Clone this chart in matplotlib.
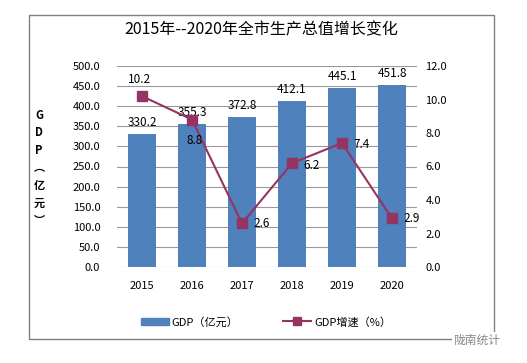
import matplotlib
matplotlib.use("Agg")
import matplotlib.pyplot as plt
from matplotlib.patches import Rectangle
from matplotlib.lines import Line2D
import numpy as np

plt.rcParams['font.family'] = ['Noto Sans CJK SC', 'DejaVu Sans']

years = ["2015", "2016", "2017", "2018", "2019", "2020"]
gdp = [330.2, 355.3, 372.8, 412.1, 445.1, 451.8]
growth = [10.2, 8.8, 2.6, 6.2, 7.4, 2.9]
title = "2015年--2020年全市生产总值增长变化"
bar_label = "GDP（亿元）"
line_label = "GDP增速（%）"

W, H = 527, 363
fig = plt.figure(figsize=(W/100, H/100), dpi=100)

def fx(px): return px / W
def fy(py): return 1 - py / H

# outer border
fig.patches.append(Rectangle((fx(29), fy(339)), fx(494) - fx(29), fy(15) - fy(339),
                             transform=fig.transFigure, fill=False, edgecolor='#808080', lw=1))

ax = fig.add_axes([fx(117), fy(267), fx(417) - fx(117), fy(66) - fy(267)])
x = np.arange(len(years))
bar_color = '#4F81BD'
line_color = '#953462'
ax.bar(x, gdp, width=0.56, color=bar_color, zorder=2)
ax.set_xlim(-0.5, len(years) - 0.5)
ax.set_ylim(0, 500)
ax.set_yticks(np.arange(0, 501, 50))
ax.set_yticklabels([f"{v:.1f}" for v in np.arange(0, 501, 50)], fontsize=8)
ax.set_xticks(x)
ax.set_xticklabels(years, fontsize=8)
ax.tick_params(axis='x', length=0, pad=10)
ax.tick_params(axis='y', length=0, pad=12)
ax.grid(axis='y', color='#999999', lw=0.8, zorder=0)
for s in ['top', 'bottom', 'left', 'right']:
    ax.spines[s].set_visible(False)
for xi, v in zip(x, gdp):
    ax.annotate(f"{v:.1f}", (xi, v), xytext=(0, 4), textcoords='offset points',
                ha='center', va='bottom', fontsize=8.5)

ax2 = ax.twinx()
ax2.plot(x, growth, color=line_color, marker='s', markersize=7, lw=1.5, zorder=3)
ax2.set_ylim(0, 12)
ax2.set_yticks(np.arange(0, 13, 2))
ax2.set_yticklabels([f"{v:.1f}" for v in np.arange(0, 13, 2)], fontsize=8)
ax2.tick_params(axis='y', length=0, pad=6)
for s in ['top', 'bottom', 'left', 'right']:
    ax2.spines[s].set_visible(False)
offsets = [(-2, 12), (2, -15), (8, 0), (8, -2), (8, -1), (8, 0)]
for xi, v, (dx, dy) in zip(x, growth, offsets):
    ax2.annotate(f"{v:.1f}", (xi, v), xytext=(dx, dy), textcoords='offset points',
                 ha='center' if abs(dy) > 5 else 'left', va='center', fontsize=8.5)

# vertical y label
fig.text(fx(39), fy(168), "G\nD\nP\n︵\n亿\n元\n︶", ha='center', va='center',
         fontsize=8, fontweight='bold', linespacing=1.45)

handles = [Rectangle((0, 0), 1, 1, color=bar_color),
           Line2D([0], [0], color=line_color, marker='s', markersize=6, lw=1.5)]
fig.legend(handles, [bar_label, line_label], loc='center', bbox_to_anchor=(fx(266), fy(322)),
           ncol=2, frameon=False, fontsize=8, handlelength=2.5, columnspacing=4, handletextpad=0.3)

fig.text(0.5 * (fx(29) + fx(494)), fy(30), title, ha='center', va='center', fontsize=11.5)

fig.text(fx(500), fy(340), "陇南统计", ha='right', va='center', fontsize=8.5, color='#888888',
         bbox=dict(facecolor='white', edgecolor='none', pad=1))

fig.savefig("out.png", dpi=100)
